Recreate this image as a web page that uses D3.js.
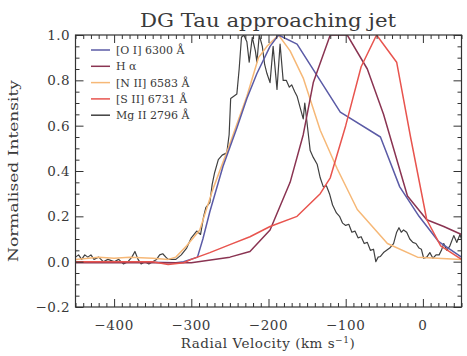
<!DOCTYPE html>
<html>
<head>
<meta charset="utf-8">
<script src="https://cdn.jsdelivr.net/npm/d3@7"></script>
<style>
  html, body { margin: 0; padding: 0; background: #fff; }
  svg text { font-family: "DejaVu Serif", "Liberation Serif", serif; fill: #3a3a3a; }
</style>
</head>
<body>
<svg id="chart" width="467" height="356"></svg>
<script>
// ---- data (velocity km/s, normalised intensity) ----
const titleText = "DG Tau approaching jet";
const xTicks = [-400, -300, -200, -100, 0];
const yTicks = [-0.2, 0.0, 0.2, 0.4, 0.6, 0.8, 1.0];
const seriesNames = ["[O I] 6300 Å", "H α", "[N II] 6583 Å", "[S II] 6731 Å", "Mg II 2796 Å"];
const seriesColors = ["#5b5ba6", "#8a3452", "#f6b877", "#e8544e", "#404040"];

const oiV = [-450, -400, -350, -320, -310, -292, -285, -276, -259, -241, -228, -215, -198, -187, -163, -107, -55, -30, -5, 20, 50];
const oiI = [0.0, 0.0, -0.003, -0.005, 0.0, 0.02, 0.1, 0.22, 0.42, 0.59, 0.72, 0.83, 0.95, 1.0, 0.96, 0.66, 0.55, 0.33, 0.2, 0.09, 0.02];

const haV = [-450, -400, -350, -300, -250, -224, -198, -172, -155, -142, -120, -98, -72, -51, -20, 5, 27, 50];
const haI = [-0.005, -0.005, -0.005, -0.005, 0.02, 0.045, 0.14, 0.35, 0.56, 0.79, 1.0, 1.0, 0.85, 0.65, 0.29, 0.185, 0.155, 0.12];

const niiV = [-450, -420, -400, -380, -350, -330, -320, -306, -289, -272, -250, -228, -213, -202, -187, -172, -155, -133, -111, -85, -46, -7, 50];
const niiI = [0.01, 0.02, 0.015, 0.02, 0.015, 0.01, 0.02, 0.07, 0.14, 0.32, 0.52, 0.73, 0.9, 0.95, 1.0, 0.93, 0.81, 0.58, 0.41, 0.23, 0.08, 0.02, 0.01];

const siiV = [-450, -400, -350, -330, -310, -300, -276, -250, -224, -198, -163, -133, -120, -100, -80, -60, -34, -16, 5, 23, 50];
const siiI = [0.0, 0.0, 0.0, -0.012, -0.005, 0.01, 0.04, 0.075, 0.11, 0.155, 0.2, 0.3, 0.37, 0.6, 0.86, 1.0, 0.88, 0.55, 0.185, 0.07, 0.01];

const mgV = [-450, -446, -442, -438, -434, -430, -426, -420, -414, -408, -400, -394, -388, -382, -377, -373, -369, -365, -360, -355, -350, -345, -341, -337, -333, -330, -320, -313, -306, -300, -293, -288, -284, -281, -276, -273, -270, -265, -260, -254, -251, -249, -245, -241, -238, -235, -232, -228, -225, -221, -217, -215, -212, -208, -205, -202, -198, -194, -189, -185, -181, -177, -173, -170, -166, -163, -159, -155, -153, -149, -146, -142, -137, -133, -129, -125, -121, -117, -112, -108, -104, -100, -96, -92, -88, -84, -80, -76, -72, -68, -64, -61, -58, -55, -51, -47, -43, -38, -34, -31, -28, -25, -21, -17, -13, -9, -5, -2, 1, 5, 9, 13, 17, 21, 24, 27, 31, 35, 40, 44, 48, 50];
const mgI = [0.02, 0.03, 0.01, 0.03, 0.02, 0.03, 0.01, 0.02, 0.0, 0.01, 0.0, 0.01, -0.01, 0.0, 0.02, 0.045, 0.01, -0.01, 0.0, -0.01, 0.0, 0.01, 0.03, 0.035, 0.02, 0.01, 0.01, 0.03, 0.06, 0.105, 0.135, 0.12, 0.2, 0.24, 0.26, 0.34, 0.39, 0.45, 0.47, 0.48, 0.56, 0.72, 0.73, 0.74, 0.85, 0.99, 1.0, 0.97, 0.88, 0.99, 0.93, 0.88, 1.0, 0.95, 0.87, 0.83, 0.79, 0.95, 0.76, 0.96, 0.8, 0.8, 0.77, 0.78, 0.75, 0.73, 0.68, 0.63, 0.7, 0.58, 0.49, 0.46, 0.43, 0.37, 0.33, 0.335, 0.3, 0.25, 0.215, 0.2, 0.17, 0.16, 0.165, 0.13, 0.135, 0.105, 0.11, 0.08, 0.085, 0.05, 0.055, 0.0, 0.02, 0.023, 0.04, 0.05, 0.06, 0.08, 0.13, 0.15, 0.13, 0.14, 0.13, 0.1, 0.085, 0.08, 0.06, 0.055, 0.015, 0.02, 0.04, 0.015, 0.03, 0.03, 0.05, 0.08, 0.05, 0.07, 0.115, 0.085, 0.12, 0.1];

const seriesV = [oiV, haV, niiV, siiV, mgV];
const seriesI = [oiI, haI, niiI, siiI, mgI];

// ---- layout ----
const svg = d3.select("#chart");
const L = 75.5, R = 461.5, T = 35, B = 307;
const x = d3.scaleLinear().domain([-450, 50]).range([L, R]);
const y = d3.scaleLinear().domain([-0.2, 1.0]).range([B, T]);

const axisColor = "#333";

// clip
svg.append("defs").append("clipPath").attr("id", "clip")
  .append("rect").attr("x", L).attr("y", T).attr("width", R - L).attr("height", B - T);

// lines
const line = d3.line().x(d => x(d[0])).y(d => y(d[1]));
const g = svg.append("g").attr("clip-path", "url(#clip)");
// draw order: Mg II at bottom? draw optical on top of black
const order = [4, 2, 0, 1, 3];
order.forEach(k => {
  const pts = seriesV[k].map((v, i) => [v, seriesI[k][i]]);
  g.append("path").attr("d", line(pts))
    .attr("fill", "none").attr("stroke", seriesColors[k])
    .attr("stroke-width", k === 4 ? 1.2 : 1.5)
    .attr("stroke-linejoin", "round");
});

// axes with inward ticks on all sides
const xMinor = d3.range(-450, 51, 10).filter(v => v % 100 !== 0);
const yMinor = d3.range(-0.2, 1.0001, 0.05).map(v => +v.toFixed(2)).filter(v => Math.abs((v * 10) % 2) > 0.01 && Math.abs(Math.abs((v * 10) % 2) - 2) > 0.01);

function addAxis(axisGen, tx, ty, majorLen, labels) {
  const gg = svg.append("g").attr("transform", `translate(${tx},${ty})`).call(axisGen);
  gg.select(".domain").remove();
  gg.selectAll("line").attr("stroke", axisColor).attr("stroke-width", 1);
  if (!labels) gg.selectAll("text").remove();
  return gg;
}

// bottom
const xb = addAxis(d3.axisTop(x).tickValues(xTicks).tickSize(8).tickFormat(""), 0, B, 8, false);
addAxis(d3.axisTop(x).tickValues(xMinor).tickSize(4).tickFormat(""), 0, B, 4, false);
// top
addAxis(d3.axisBottom(x).tickValues(xTicks).tickSize(8).tickFormat(""), 0, T, 8, false);
addAxis(d3.axisBottom(x).tickValues(xMinor).tickSize(4).tickFormat(""), 0, T, 4, false);
// left
addAxis(d3.axisRight(y).tickValues(yTicks).tickSize(8).tickFormat(""), L, 0, 8, false);
addAxis(d3.axisRight(y).tickValues(yMinor).tickSize(4).tickFormat(""), L, 0, 4, false);
// right
addAxis(d3.axisLeft(y).tickValues(yTicks).tickSize(8).tickFormat(""), R, 0, 8, false);
addAxis(d3.axisLeft(y).tickValues(yMinor).tickSize(4).tickFormat(""), R, 0, 4, false);

// frame
svg.append("rect").attr("x", L).attr("y", T).attr("width", R - L).attr("height", B - T)
  .attr("fill", "none").attr("stroke", axisColor).attr("stroke-width", 1.2);

// tick labels
const fmtX = v => (v < 0 ? "\u2212" : "") + Math.abs(v);
svg.append("g").selectAll("text").data(xTicks).join("text")
  .attr("x", d => x(d)).attr("y", 330)
  .attr("text-anchor", "middle").attr("font-size", 13.5)
  .attr("letter-spacing", 0.6)
  .text(fmtX);

const fmtY = v => (v < 0 ? "\u2212" : "") + Math.abs(v).toFixed(1);
svg.append("g").selectAll("text").data(yTicks).join("text")
  .attr("x", 70).attr("y", d => y(d) + 5)
  .attr("text-anchor", "end").attr("font-size", 13.5)
  .attr("letter-spacing", 0.4)
  .text(fmtY);

// title
svg.append("text").attr("x", 268).attr("y", 27).attr("text-anchor", "middle")
  .attr("font-size", 18).attr("textLength", 256).attr("lengthAdjust", "spacingAndGlyphs")
  .text(titleText);

// x label
const xl = svg.append("text").attr("x", 268).attr("y", 348).attr("text-anchor", "middle")
  .attr("font-size", 13.5).attr("letter-spacing", 0.5);
xl.append("tspan").text("Radial Velocity (km s");
xl.append("tspan").attr("dy", -5).attr("font-size", 9).text("\u22121");
xl.append("tspan").attr("dy", 5).text(")");

// y label
svg.append("text").attr("transform", "translate(18,171) rotate(-90)")
  .attr("text-anchor", "middle").attr("font-size", 13.5)
  .attr("textLength", 182).attr("lengthAdjust", "spacingAndGlyphs")
  .text("Normalised Intensity");

// legend
const lg = svg.append("g");
seriesNames.forEach((name, i) => {
  const yy = 50 + i * 16.3;
  lg.append("line").attr("x1", 91).attr("x2", 110).attr("y1", yy).attr("y2", yy)
    .attr("stroke", seriesColors[i]).attr("stroke-width", 1.5);
  lg.append("text").attr("x", 116).attr("y", yy + 4).attr("font-size", 11).text(name);
});
</script>
</body>
</html>
